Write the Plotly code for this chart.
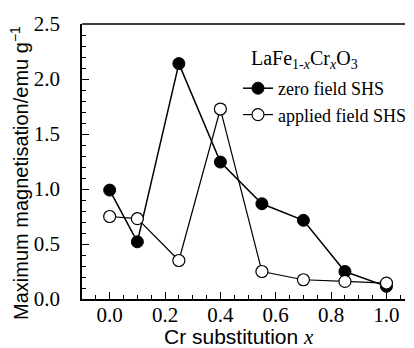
import plotly.graph_objects as go

x_vals = [0.0, 0.1, 0.25, 0.4, 0.55, 0.7, 0.85, 1.0]
zero_field = [0.99, 0.52, 2.14, 1.245, 0.866, 0.715, 0.25, 0.115]
applied_field = [0.75, 0.73, 0.35, 1.727, 0.25, 0.175, 0.16, 0.145]
x_ticks = [0.0, 0.2, 0.4, 0.6, 0.8, 1.0]
y_ticks = [0.0, 0.5, 1.0, 1.5, 2.0, 2.5]

W, H = 414, 348
L, R, T, B = 82, 9, 24, 49
pw, ph = W - L - R, H - T - B

fig = go.Figure()
fig.add_trace(go.Scatter(
    x=x_vals, y=zero_field, mode="lines+markers", name="zero field SHS",
    line=dict(color="black", width=1.5),
    marker=dict(symbol="circle", size=12, color="black", line=dict(color="black", width=1)),
))
fig.add_trace(go.Scatter(
    x=x_vals, y=applied_field, mode="lines+markers", name="applied field SHS",
    line=dict(color="black", width=1.2),
    marker=dict(symbol="circle", size=12, color="white", line=dict(color="black", width=1.2)),
))

tickfont = dict(family="Liberation Serif", size=21, color="black")
fig.update_layout(
    width=W, height=H,
    margin=dict(l=L, r=R, t=T, b=B, pad=0, autoexpand=False),
    paper_bgcolor="white", plot_bgcolor="white",
    showlegend=True,
    legend=dict(
        x=(238 - L) / pw, y=(299 - 70) / ph, xanchor="left", yanchor="top",
        font=dict(family="Liberation Serif", size=18, color="black"),
        bgcolor="rgba(0,0,0,0)", tracegroupgap=0, itemwidth=30,
    ),
    xaxis=dict(
        range=[-0.1, 1.067], tickvals=x_ticks, ticktext=[f"{v:.1f}" for v in x_ticks],
        ticks="inside", ticklen=7, tickwidth=1.2, tickcolor="black",
        minor=dict(dtick=0.05, tick0=0, ticks="inside", ticklen=4, tickwidth=1, tickcolor="black"),
        showline=True, linecolor="black", linewidth=1.5, showgrid=False, zeroline=False,
        tickfont=tickfont, ticklabelstandoff=-4, automargin=False,
    ),
    yaxis=dict(
        range=[0, 2.5], tickvals=y_ticks, ticktext=[f"{v:.1f}" for v in y_ticks],
        ticks="inside", ticklen=7, tickwidth=1.2, tickcolor="black",
        minor=dict(dtick=0.1, tick0=0, ticks="inside", ticklen=4, tickwidth=1, tickcolor="black"),
        showline=True, linecolor="black", linewidth=1.5, showgrid=False, zeroline=False,
        tickfont=tickfont, ticklabelstandoff=16, automargin=False,
    ),
    shapes=[dict(type="line", xref="paper", yref="paper", x0=0, x1=1, y0=1, y1=1,
                 line=dict(color="black", width=1.5))],
    annotations=[
        dict(text="Maximum magnetisation/emu g<sup>−1</sup>", textangle=-90,
             xref="paper", yref="paper", x=(20 - L) / pw, y=(299 - 173) / ph,
             xanchor="center", yanchor="middle", showarrow=False,
             font=dict(family="Liberation Sans", size=20, color="black")),
        dict(text="Cr substitution <i><span style='font-family:Liberation Serif'>x</span></i>",
             xref="paper", yref="paper", x=(239 - L) / pw, y=(299 - 337) / ph,
             xanchor="center", yanchor="middle", showarrow=False,
             font=dict(family="Liberation Sans", size=21, color="black")),
        dict(text="LaFe<sub>1-<i>x</i></sub>Cr<sub><i>x</i></sub>O<sub>3</sub>",
             xref="paper", yref="paper", x=(249 - L) / pw, y=(299 - 59) / ph,
             xanchor="left", yanchor="middle", showarrow=False,
             font=dict(family="Liberation Serif", size=20, color="black")),
    ],
)

fig.write_html("out.html", config={"displayModeBar": False},
               post_script="document.body.style.margin='0';document.body.style.padding='0';")
